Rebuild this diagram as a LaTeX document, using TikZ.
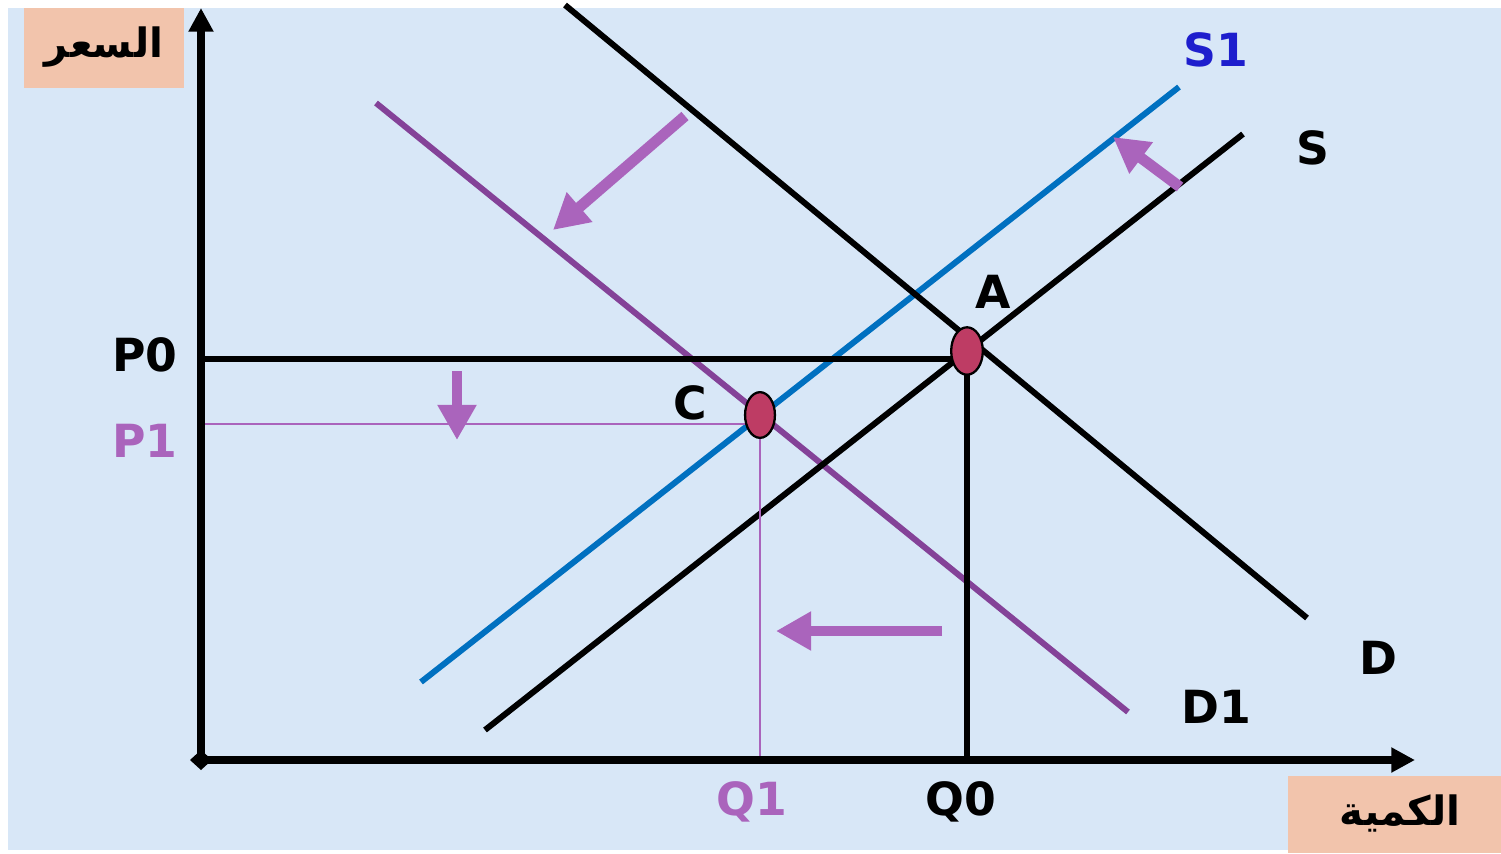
\documentclass[tikz,border=0pt]{standalone}
\usepackage{fontspec}
\setmainfont{DejaVu Sans}
\newfontfamily\arabicfont[Script=Arabic]{DejaVu Sans}
\TeXXeTstate=1
\usetikzlibrary{arrows.meta,shapes.geometric}
\definecolor{bgblue}{RGB}{216,231,247}
\definecolor{labelpink}{RGB}{242,196,172}
\definecolor{sblue}{RGB}{0,112,192}
\definecolor{dpurple}{RGB}{132,66,152}
\definecolor{apurple}{RGB}{170,100,188}
\definecolor{txtblue}{RGB}{30,30,205}
\definecolor{ptred}{RGB}{190,60,100}
\tikzset{
  axis/.style={line width=4.3pt,-{Triangle[length=13.5pt,width=13.5pt]}},
  curve/.style={line width=3.4pt},
  guide/.style={line width=3.6pt},
  thinguide/.style={line width=0.8pt,apurple},
  shiftarrow/.style={line width=6.2pt,apurple,-{Triangle[length=20pt,width=21pt]}},
  lbl/.style={font=\fontsize{26}{30}\selectfont\bfseries,inner sep=0pt},
  arlbl/.style={font=\arabicfont\fontsize{23}{28}\selectfont\bfseries,inner sep=0pt},
  pt/.style={ellipse,draw=black,line width=1.3pt,fill=ptred,minimum width=18pt,minimum height=27pt,inner sep=0pt}
}
\begin{document}
\begin{tikzpicture}[x=0.02cm,y=-0.02cm]
\useasboundingbox (0,0) rectangle (1501,853);
\fill[bgblue] (8,8) rectangle (1501,850);
% label boxes
\fill[labelpink] (24,8) rectangle (184,88);
\fill[labelpink] (1288,776) rectangle (1501,853);
\node[arlbl] (yl) at (104,47) {\beginR السعر\endR};
\node[arlbl] (xl) at (1400,813) {\beginR الكمية\endR};
% coordinates
\coordinate (O) at (201,760);
\coordinate (ytop) at (201,8);
\coordinate (xend) at (1415,760);
\coordinate (D0) at (565,5);
\coordinate (D1end) at (1307,618);
\coordinate (S0) at (485,730);
\coordinate (S1end) at (1243,134);
\coordinate (T0) at (421,682);
\coordinate (T1) at (1179,87);
\coordinate (E0) at (376,103);
\coordinate (E1) at (1128,712);
\coordinate (P0) at (201,359);
\coordinate (P1) at (201,424);
\coordinate (Q0) at (967,760);
\coordinate (Q1) at (760,760);
% supply / demand curves
\draw[curve,sblue] (T0) -- (T1);
\draw[curve,dpurple] (E0) -- (E1);
\draw[curve,black] (D0) -- (D1end);
\draw[curve,black] (S0) -- (S1end);
% guide lines
\draw[guide] (P0) -- (967,359) coordinate (PA);
\draw[guide] (967,351) -- (Q0);
\draw[thinguide] (P1) -- (760,424) coordinate (PC);
\draw[thinguide] (760,416) -- (Q1);
% axes
\draw[axis] (O) -- (ytop);
\draw[axis] (O) -- (xend);
\fill[black] (190,760) -- (201,750) -- (212,760) -- (201,770) -- cycle;
% shift arrows
\coordinate (a1s) at (685,116); \coordinate (a1e) at (553,230);
\coordinate (a2s) at (1180,187); \coordinate (a2e) at (1113,137);
\coordinate (a3s) at (457,371); \coordinate (a3e) at (457,440);
\coordinate (a4s) at (942,631); \coordinate (a4e) at (776,631);
\draw[shiftarrow] (a1s) -- (a1e);
\draw[shiftarrow] (a2s) -- (a2e);
\draw[shiftarrow] (a3s) -- (a3e);
\draw[shiftarrow] (a4s) -- (a4e);
% equilibrium points
\node[pt] (A) at (967,351) {};
\node[pt,minimum width=17pt,minimum height=26pt] (C) at (760,415) {};
% labels
\node[lbl,txtblue] (lS1) at (1216,50) {S1};
\node[lbl] (lS) at (1313,148) {S};
\node[lbl] (lA) at (993,292) {A};
\node[lbl] (lC) at (690,403) {C};
\node[lbl] (lP0) at (145,355) {P0};
\node[lbl,apurple] (lP1) at (145,441) {P1};
\node[lbl] (lD) at (1378,658) {D};
\node[lbl] (lD1) at (1216,707) {D1};
\node[lbl,apurple] (lQ1) at (752,802) {Q1};
\node[lbl] (lQ0) at (961,802) {Q0};
\end{tikzpicture}
\end{document}
